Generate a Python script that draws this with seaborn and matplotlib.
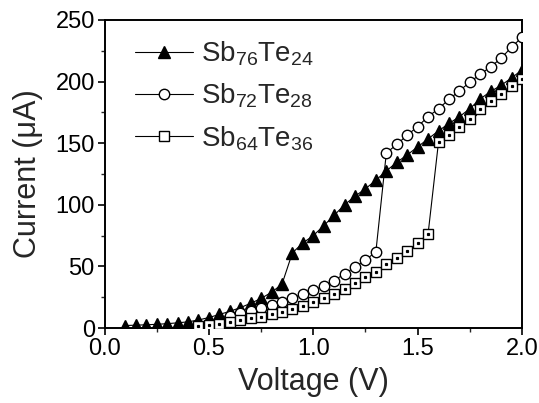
import numpy as np
import pandas as pd
import matplotlib
matplotlib.use("Agg")
import matplotlib.pyplot as plt
import seaborn as sns
from matplotlib.ticker import MultipleLocator

# ---- data ----
v_76 = [0.10, 0.15, 0.20, 0.25, 0.30, 0.35, 0.40, 0.45, 0.50, 0.55, 0.60, 0.65,
        0.70, 0.75, 0.80, 0.85, 0.90, 0.95, 1.00, 1.05, 1.10, 1.15, 1.20, 1.25,
        1.30, 1.35, 1.40, 1.45, 1.50, 1.55, 1.60, 1.65, 1.70, 1.75, 1.80, 1.85,
        1.90, 1.95, 2.00]
i_76 = [2.0, 2.3, 2.6, 3.0, 3.5, 4.2, 5.0, 6.5, 8.5, 11.0, 13.5, 16.5,
        20.0, 24.0, 29.0, 35.5, 61.0, 69.0, 75.0, 83.0, 91.5, 100.0, 107.0, 113.0,
        120.0, 127.5, 134.5, 140.5, 147.0, 153.5, 160.0, 166.0, 171.5, 178.0, 186.0, 192.0,
        197.0, 203.0, 209.5]

v_72 = [0.60, 0.65, 0.70, 0.75, 0.80, 0.85, 0.90, 0.95, 1.00, 1.05, 1.10, 1.15,
        1.20, 1.25, 1.30, 1.35, 1.40, 1.45, 1.50, 1.55, 1.60, 1.65, 1.70, 1.75,
        1.80, 1.85, 1.90, 1.95, 2.00]
i_72 = [10.0, 11.8, 13.5, 16.5, 18.7, 21.4, 24.0, 27.8, 30.6, 34.0, 38.5, 44.0,
        49.5, 55.0, 62.0, 142.0, 149.0, 156.5, 163.5, 171.5, 178.0, 185.5, 192.5, 199.5,
        206.0, 212.0, 219.0, 228.0, 236.0]

v_64 = [0.45, 0.50, 0.55, 0.60, 0.65, 0.70, 0.75, 0.80, 0.85, 0.90, 0.95, 1.00,
        1.05, 1.10, 1.15, 1.20, 1.25, 1.30, 1.35, 1.40, 1.45, 1.50, 1.55, 1.60,
        1.65, 1.70, 1.75, 1.80, 1.85, 1.90, 1.95, 2.00]
i_64 = [1.6, 2.4, 3.5, 4.9, 6.2, 8.0, 9.2, 11.2, 13.2, 15.6, 18.0, 20.7,
        24.0, 27.7, 31.8, 36.2, 41.2, 45.6, 51.8, 57.2, 62.6, 68.8, 76.4, 151.0,
        157.0, 163.5, 170.0, 178.0, 184.0, 190.0, 196.5, 202.0]

labels = [r"Sb$_{76}$Te$_{24}$", r"Sb$_{72}$Te$_{28}$", r"Sb$_{64}$Te$_{36}$"]
x_ticks = [0.0, 0.5, 1.0, 1.5, 2.0]
y_ticks = [0, 50, 100, 150, 200, 250]

# ---- style ----
sns.set_style("ticks")
plt.rcParams["font.family"] = ["Liberation Sans", "DejaVu Sans"]
plt.rcParams["mathtext.default"] = "regular"
plt.rcParams["axes.linewidth"] = 1.4

fig = plt.figure(figsize=(5.39, 4.03), dpi=100)
ax = fig.add_axes([0.1939, 0.1861, 0.7746, 0.7643])

common = dict(color="black", linewidth=0.8, markeredgecolor="black",
              markeredgewidth=1.0, ax=ax, sort=False)

sns.lineplot(x=v_76, y=i_76, marker="^", markersize=9,
             markerfacecolor="black", label=labels[0], zorder=3, **common)
sns.lineplot(x=v_72, y=i_72, marker="o", markersize=7.5,
             markerfacecolor="white", label=labels[1], zorder=4, **common)
sns.lineplot(x=v_64, y=i_64, marker="s", markersize=6.5,
             markerfacecolor="white", label=labels[2], zorder=5, **common)
# tiny dot in the centre of the square markers
ax.plot(v_64, i_64, linestyle="none", marker="s", markersize=1.3,
        color="black", zorder=6)

ax.set_xlim(0, 2.0)
ax.set_ylim(0, 250)
ax.set_xticks(x_ticks)
ax.set_xticklabels([f"{t:.1f}" for t in x_ticks])
ax.set_yticks(y_ticks)
ax.set_yticklabels([str(t) for t in y_ticks])
ax.xaxis.set_minor_locator(MultipleLocator(0.25))
ax.yaxis.set_minor_locator(MultipleLocator(25))
ax.tick_params(which="major", direction="out", length=5, width=1.2,
               labelsize=17, pad=2, colors="black")
ax.tick_params(which="minor", direction="out", length=3, width=1.0)

ax.set_xlabel("Voltage (V)", fontsize=22, labelpad=5)
ax.set_ylabel("Current (\u03bcA)", fontsize=22, labelpad=9)

for s in ax.spines.values():
    s.set_visible(True)
    s.set_color("black")

leg = ax.legend(loc="upper left", bbox_to_anchor=(0.026, 1.0), frameon=False,
                fontsize=20, handlelength=2.1, handletextpad=0.3,
                labelspacing=0.5, borderaxespad=0.3)

fig.savefig("out.png", dpi=100, facecolor="white")
